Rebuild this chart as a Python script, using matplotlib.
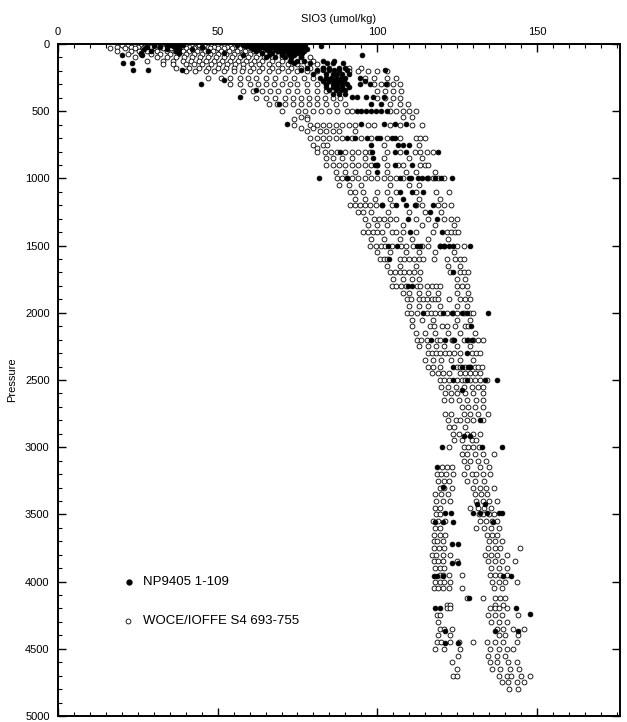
import matplotlib
matplotlib.use("Agg")
import matplotlib.pyplot as plt
import numpy as np

# SiO3 (umol/kg), grouped by bottle pressure (dbar)

# WOCE/IOFFE S4 stations 693-755 (open circles)
woce_pres = [8, 20, 32, 50, 75, 100, 125, 150, 175, 200, 250, 300, 350, 400, 450,
             500, 540, 560, 600, 625, 650, 700, 750, 775, 800, 850, 900, 950, 1000,
             1050, 1100, 1150, 1200, 1250, 1300, 1350, 1400, 1450, 1500,
             1550, 1600, 1650, 1700, 1750, 1800, 1850, 1900, 1950, 2000, 2050, 2100,
             2150, 2200, 2250, 2300, 2350, 2400, 2450, 2500, 2550, 2600,
             2650, 2700, 2750, 2800, 2850, 2900, 2950, 3000, 3050, 3100, 3150, 3200,
             3250, 3300, 3350, 3400, 3450, 3500, 3550, 3600, 3650, 3700, 3750, 3800,
             3850, 3900, 3950, 4000, 4050, 4125, 4175, 4200, 4250, 4300, 4350, 4400,
             4450, 4500, 4550, 4600, 4650, 4700, 4750, 4800]
woce_sio3 = [
    [20, 22, 24, 26, 28, 30, 32, 34, 36, 38, 40, 42, 44, 46, 48, 50, 52, 54, 56, 58, 60, 62, 64, 66, 68, 70],
    [18.4, 23, 25, 27, 29, 31, 33, 35, 37, 39, 41, 43, 45, 47, 49, 51, 53, 55, 57, 59, 61, 63, 65, 67, 69, 71, 73],
    [16.3, 21, 24, 26.5, 28, 30.5, 33, 35.5, 38, 40, 42.5, 45, 47.5, 50, 52, 54.5, 57, 59.5, 62, 64, 66.5, 69, 71, 73.5, 76],
    [18.4, 23, 25.5, 28, 31, 34, 36.5, 39, 41, 43.5, 46, 48.5, 51, 53.5, 56, 58.5, 61, 63.5, 66, 68.5, 71, 74],
    [22, 26, 29, 32, 35, 37.5, 40, 42.5, 45, 47.5, 50, 52.5, 55, 57.5, 60, 62.5, 65, 67.5, 70, 73, 76],
    [24, 30.9, 34, 37, 39.5, 42, 44.5, 47, 49.5, 52, 54.5, 57, 59.5, 62, 64.5, 67, 70, 73, 76, 79],
    [28, 33, 36, 39, 41.5, 44, 46.5, 49, 51.5, 54, 56.5, 59, 61.5, 64, 67, 70, 73, 76, 80],
    [33, 36, 40, 42.5, 45, 48, 50.5, 53, 55.5, 58, 60.5, 63, 66, 69, 72, 75, 78, 81],
    [37, 41, 44, 47, 50, 52.5, 55, 58, 61, 64, 67, 70, 73, 76, 79, 83, 91, 95],
    [40, 43, 46.5, 49, 52, 55, 57.5, 60, 63, 66, 69, 72, 75, 78, 81, 84, 91, 94, 97, 100, 103],
    [47, 51, 54, 57, 59.5, 62, 65, 68, 71, 74, 77, 80, 84, 96, 99, 103, 106],
    [54, 57, 60, 62.5, 65, 67.5, 70, 72.5, 75, 78, 81, 84, 99, 101, 103, 105, 107],
    [58, 61, 64, 66.5, 69, 72, 75, 78, 81, 84, 100, 102.5, 105, 107.5],
    [62, 65, 68, 71, 73.7, 76, 78.5, 81, 83.5, 86, 88.3, 100, 102.5, 105, 107],
    [66, 68.5, 71, 73.5, 76, 78.5, 81, 84, 87, 90, 104, 107, 109.5],
    [70, 75.3, 77.5, 80, 82.5, 85, 87.5, 90.4, 92, 104, 106, 108, 110, 112],
    [76, 78, 108, 111],
    [74, 78],
    [74, 79, 81, 83, 85, 87, 89, 91, 93, 97, 99, 104, 107, 111, 114],
    [76, 80],
    [78, 82, 84, 86, 88, 93],
    [79, 81, 83, 85, 87, 89, 92, 95, 98, 103, 107, 112, 113.5, 115],
    [80, 83, 84.3, 102, 113],
    [81],
    [81, 83.6, 85.5, 87.5, 90, 92, 94, 96, 97.7, 103, 107, 111.8, 113.5, 115.5, 117.5],
    [84, 86, 89, 92, 96, 102, 110, 114],
    [84, 86, 88, 90, 92, 94, 96, 98, 100, 103, 106.6, 108, 113.5, 115, 116],
    [87, 90, 93, 97, 103, 109, 112, 118],
    [87.3, 89, 90.5, 92, 94, 96, 98, 100, 102, 104, 106, 108, 116, 117.5, 119, 121],
    [88, 91, 95, 104, 110, 113],
    [91.4, 93, 95.6, 100, 103, 106, 112, 118.5, 122.5],
    [93, 96, 99.3, 104, 113, 119.5],
    [91.4, 93, 94.5, 96, 97.7, 99.5, 101.5, 104.5, 112, 114, 119, 121, 123],
    [94, 95.6, 98, 103.5, 110, 115, 120],
    [96, 99, 100.5, 102, 104, 106, 112, 116, 121, 123, 125],
    [97, 100, 103, 108, 114, 118, 124],
    [95.6, 97, 98.5, 99.8, 101.5, 104.5, 106, 108, 112, 117.5, 121.7, 123, 124.3, 125.4],
    [98, 102, 107, 111, 116, 122],
    [97.7, 99.5, 101, 102.5, 104.5, 107.5, 109, 111.3, 114, 116, 119.6, 121, 125, 127],
    [100, 104, 109, 113, 118, 124],
    [100.9, 102, 103, 107.1, 108.5, 110, 111.5, 113, 114.4, 117.6, 121.7, 124.3, 125.9, 127],
    [103, 107, 112, 122, 126],
    [104, 105.5, 107, 108.5, 110, 111.5, 113.4, 122.7, 125.9, 127, 128.5],
    [105, 108, 111, 113, 124.8, 127.5],
    [104.5, 106, 107.5, 109, 112.3, 113.4, 115.5, 117, 118.5, 119.6, 124.9, 126.5, 128],
    [108, 110, 113, 116, 119, 125, 128.5],
    [109.2, 110.5, 112.9, 114.2, 115.5, 117, 118, 119.1, 122.6, 125.9, 127.5, 129],
    [110, 113, 116, 119.6, 124.8, 128],
    [109.2, 110.7, 112.3, 115.5, 116.8, 118.2, 119.6, 121.7, 123.8, 125, 127.3, 129, 130],
    [111, 114, 117.5, 125, 129],
    [110.8, 116.5, 117.6, 120.2, 121.7, 124.3, 127.5, 128.5],
    [112, 115, 118, 122, 126, 130.5],
    [112.3, 113.8, 115.5, 118.6, 119.6, 123.3, 123.8, 127, 128.5, 130, 131.5, 133.2],
    [113, 116, 118.5, 121, 125, 129],
    [116, 117.2, 118.4, 119.6, 121.2, 122.5, 124, 125.9, 129.6, 130.9, 132.2],
    [115, 117.5, 120, 123, 126, 130],
    [116, 117.5, 119.6, 124.9, 126, 127.5, 129, 130.5, 131.5, 132.7],
    [117, 119, 120.5, 122.3, 125.9, 127.5, 129, 130.5, 132.2],
    [119.6, 121, 122.5, 125, 126.4, 127.5, 129, 130.5, 132, 134.3],
    [120, 122, 124.5, 127, 129.5, 131.5, 133.2],
    [121.2, 123, 125, 127.5, 130, 133],
    [121, 123, 125.5, 128, 131, 133],
    [126.4, 128.5, 130.5, 133.2],
    [121.2, 123, 127, 129, 131.5, 134.8],
    [122, 124.5, 126, 128, 130, 133],
    [122.3, 124, 127.5],
    [123.8, 125.5, 128, 130, 132.2],
    [124, 126.5, 129.5, 131],
    [122.6, 127, 128.5, 130, 131.7],
    [126.4, 128, 130.5, 133, 136.4],
    [127, 129, 131.5, 134],
    [120.2, 121.8, 123.3, 128, 132, 135],
    [118.6, 120, 121.5, 123.8, 127, 129.5, 131, 133, 135.3],
    [119, 121, 122.5, 128, 130.5, 133.5],
    [119.6, 121, 123.3, 130, 132, 134, 136.4],
    [118, 120, 122, 130.5, 132.5, 134.5],
    [118.5, 120.5, 122.8, 131, 133, 135, 137.4],
    [118, 119.6, 129, 131.5, 133.5, 135.5],
    [118.4, 119.6, 131.7, 133, 135, 136.5],
    [117.5, 119, 121.2, 132, 134, 136, 137.4],
    [118, 119.6, 131, 133.5, 135.5, 138],
    [117.6, 119.5, 121.2, 134.3, 136, 137.5],
    [117.8, 118.8, 120.7, 135, 136.8, 139],
    [117.6, 119.4, 121, 134.8, 137, 138.5, 144.7],
    [117, 118.5, 120.7, 122.8, 133.7, 135.5, 137.5, 140.5],
    [117.6, 119, 120.7, 124.8, 134.8, 137, 139, 143.1],
    [118, 119.6, 121, 135.5, 138, 140.5],
    [119.6, 120.5, 122.3, 126.4, 135.3, 137, 138.5, 140.5],
    [118, 119.6, 121, 122.8, 136, 138, 140, 143.6],
    [117.6, 119, 120.5, 122.3, 126.4, 136.5, 139],
    [128, 133.2, 136.9, 138.4, 140],
    [121.7, 122.8, 137, 139.5],
    [121.7, 122.8, 135.3, 136.8, 138, 140.5],
    [118.6, 119.6, 134.8, 137, 139, 144.2],
    [119.1, 135.5, 138, 140.5],
    [119.6, 121, 123.3, 137.4, 139.5, 142.6, 145.8],
    [119.1, 122.8, 138, 140, 144],
    [118.6, 120, 122.8, 125.6, 130.1, 134.3, 137, 139.5, 143.6],
    [118, 121, 125.9, 135.3, 138, 140.5, 142.6],
    [125.4, 134.8, 137.4, 140],
    [123.5, 135.3, 137.5, 141, 143.6],
    [124.8, 136, 138.5, 141.5, 144.5],
    [123.8, 124.8, 138, 140.5, 142, 145, 147.8],
    [139, 141, 143.6, 146],
    [141.3, 144.2],
]

# NP9405 stations 1-109 (filled dots)
np_pres = [8, 15, 25, 40, 55, 70, 85, 100, 125, 144, 175, 196, 225, 250, 265, 275,
           295, 320, 345, 370, 392, 444, 500, 598, 700, 750, 800, 850, 900, 950,
           1000, 1100, 1150, 1200, 1250, 1300, 1400, 1500, 1600, 1700, 1800, 2000,
           2100, 2200, 2300, 2400, 2500, 2575, 2800, 2920, 3000, 3150, 3294, 3420,
           3492, 3560, 3720, 3860, 3960, 4124, 4200, 4240, 4370, 4460]
np_sio3 = [
    [35, 37, 39, 56, 58, 60, 62, 64, 65.5, 67, 68.5, 70, 71.5, 73, 74.5, 76, 77.5],
    [30, 34, 36, 38, 59, 61, 63, 66, 68, 69.5, 71, 72.5, 74, 75.5, 77, 82.3],
    [28, 32, 37, 45, 60, 62, 64, 67, 69, 70.5, 72, 73.5, 75, 76.5],
    [27, 34, 38, 42, 61, 63, 65, 68, 70, 71.5, 73, 74.5, 76, 78],
    [29, 37, 47, 62, 66, 69, 71, 72.5, 74, 75.5, 77],
    [26, 38, 52, 64, 67, 70, 72, 73.5, 75, 76.5],
    [20, 26.4, 58, 66, 70, 72.5, 74, 95.1],
    [65, 68, 71, 73, 76],
    [72.7, 75, 77, 83, 86.5],
    [20.5, 23.1, 74, 79, 84.2, 86, 89.4],
    [78, 83, 85, 88, 90],
    [23.4, 28.1, 38.7, 76, 81, 83, 85, 86.5, 88, 90.4, 102.4],
    [80, 84, 86, 87.5, 89, 91],
    [82, 84, 85.5, 87, 88.5, 90, 94.6],
    [52.1],
    [83, 85, 86.5, 88, 89.5, 96],
    [44.7, 84, 86, 87.5, 89, 90.4, 94.6, 97.7, 102.7],
    [84, 86, 87.5, 89, 91],
    [62, 85, 87, 88.5, 90],
    [86, 88, 90],
    [57, 92, 93.6, 96.5, 98.8, 102],
    [69.3, 98, 101],
    [93.6, 95, 96.5, 98, 99.5, 101, 103],
    [71.6, 95, 102, 105.5, 109],
    [90.4, 93, 96.7, 99.8, 100.8, 104.5, 105.5],
    [98, 106.6, 108, 110],
    [88.3, 98.2, 105.5, 109, 119],
    [98.7],
    [99.3, 100, 105.5, 110.8],
    [100],
    [81.8, 90.5, 107.1, 110, 110.7, 112.8, 113.9, 115.5, 118, 120, 123.3],
    [107, 111, 114.2],
    [108],
    [101.4, 106, 108.9, 111.8, 117.3],
    [116.5],
    [109.7, 118.6],
    [110.2, 120.2],
    [103.5, 106.1, 112.3, 113.4, 119.6, 121, 122.5, 123.7, 129],
    [103.7],
    [123.8],
    [109.7, 110.8],
    [114.4, 120.7, 123.3, 126.4, 128, 134.7],
    [129.2],
    [116.7, 121.2, 124, 128, 129.6],
    [128],
    [123.8, 126.4, 128.5, 129],
    [123.8, 128, 133.7, 137.4],
    [126.4],
    [132.2],
    [127, 129],
    [120.2, 132.7, 139.2],
    [118.6],
    [120.7],
    [131.2, 133.7],
    [121.2, 123, 129.9, 132.2, 134.3, 138, 139],
    [118, 120.7, 123.6, 136.3],
    [123.3, 125.4],
    [123.3, 125.4],
    [117.6, 118.6, 120.5, 139.5, 141.8],
    [128.8],
    [118, 119.6, 143.4],
    [147.8],
    [121.2, 136.8, 144.2],
    [121.2, 125.4],
]

assert len(woce_pres) == len(woce_sio3)
assert len(np_pres) == len(np_sio3)


def flatten(pres, vals):
    p = np.concatenate([np.full(len(v), lev, dtype=float) for lev, v in zip(pres, vals)])
    s = np.concatenate([np.asarray(v, dtype=float) for v in vals])
    return s, p


woce_x, woce_y = flatten(woce_pres, woce_sio3)
np_x, np_y = flatten(np_pres, np_sio3)

plt.rcParams['font.family'] = ['Liberation Sans', 'DejaVu Sans']

fig = plt.figure(figsize=(6.27, 7.22), dpi=100)
ax = fig.add_axes([58 / 627, 1 - 716 / 722, 562 / 627, 672 / 722])

ax.plot(woce_x, woce_y, 'o', ms=3.5, mfc='white', mec='black', mew=0.6, ls='none')
ax.plot(np_x, np_y, 'o', ms=3.5, mfc='black', mec='black', mew=0.5, ls='none')

ax.set_xlim(0, 176)
ax.set_ylim(5000, 0)

ax.xaxis.set_label_position('top')
ax.set_xlabel('SIO3 (umol/kg)', fontsize=8, labelpad=4)
ax.set_ylabel('Pressure', fontsize=8, labelpad=6)

ax.set_xticks([0, 50, 100, 150])
ax.set_xticks(np.arange(0, 176, 5), minor=True)
ax.set_yticks(np.arange(0, 5001, 500))
ax.set_yticks(np.arange(0, 5001, 100), minor=True)

ax.tick_params(axis='x', which='both', direction='in', top=True, bottom=True,
               labeltop=True, labelbottom=False, labelsize=8, pad=5)
ax.tick_params(axis='y', which='major', direction='in', left=True, right=True,
               labelsize=8, pad=6)
ax.tick_params(axis='y', which='minor', direction='in', left=True, right=False)
ax.tick_params(which='major', length=6, width=1.0)
ax.tick_params(which='minor', length=3, width=0.8)
for sp in ax.spines.values():
    sp.set_linewidth(1.4)

# legend drawn as markers + text, the way the original has it
ax.plot([22.3], [4001], 'o', ms=3.5, mfc='black', mec='black', ls='none')
ax.text(26.6, 4001, 'NP9405 1-109', fontsize=9.5, va='center', ha='left')
ax.plot([22.0], [4291], 'o', ms=3.5, mfc='white', mec='black', mew=0.6, ls='none')
ax.text(26.6, 4291, 'WOCE/IOFFE S4 693-755', fontsize=9.5, va='center', ha='left')

fig.savefig('out.png', dpi=100)
